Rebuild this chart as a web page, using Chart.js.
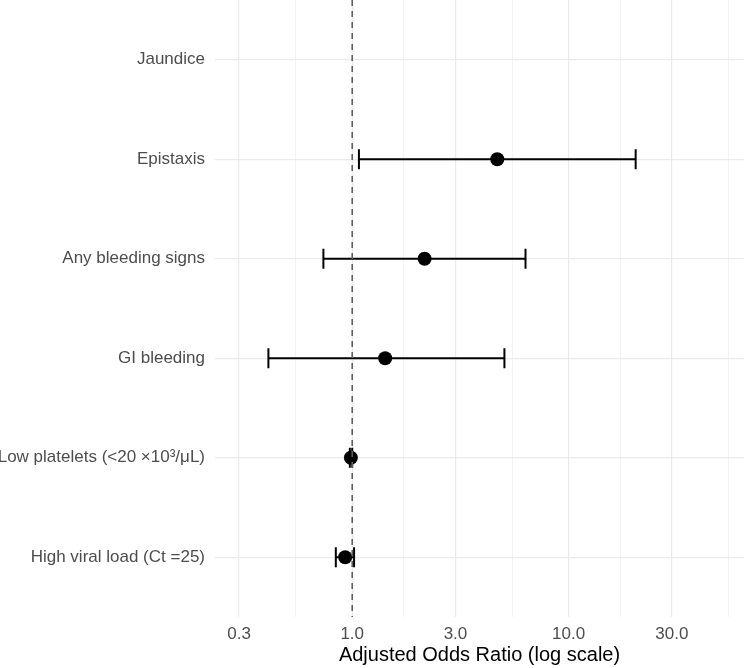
<!DOCTYPE html>
<html>
<head>
<meta charset="utf-8">
<script src="https://cdn.jsdelivr.net/npm/chart.js@4/dist/chart.umd.min.js"></script>
<style>
  html, body { margin: 0; padding: 0; background: #ffffff; }
  #wrap { width: 744px; height: 668px; position: relative; }
</style>
</head>
<body>
<div id="wrap"><canvas id="c"></canvas></div>
<script>
// ---- data ----
const categories = [
  "Jaundice",
  "Epistaxis",
  "Any bleeding signs",
  "GI bleeding",
  "Low platelets (<20 \u00d710\u00b3/\u03bcL)",
  "High viral load (Ct =25)"
];
const oddsRatios = [null, 4.68, 2.16, 1.42, 0.986, 0.928];
const ciLower    = [null, 1.074, 0.736, 0.41, 0.975, 0.84];
const ciUpper    = [null, 20.4, 6.32, 5.05, 1.0, 1.02];

const majorTicks = [0.3, 1, 3, 10, 30];
const majorTickLabels = ["0.3", "1.0", "3.0", "10.0", "30.0"];
const minorTicks = [0.5477, 1.732, 5.477, 17.32, 54.77];
const referenceValue = 1;

const xTitle = "Adjusted Odds Ratio (log scale)";

// ---- build datasets ----
const FONT = "'Liberation Sans', Arial, sans-serif";
const datasets = [];

// reference line (drawn on top)
datasets.push({
  type: 'line',
  data: [{x: referenceValue, y: -0.6}, {x: referenceValue, y: categories.length - 0.4}],
  borderColor: '#5f5f5f',
  borderWidth: 1.6,
  borderDash: [6, 5],
  pointRadius: 0,
  fill: false,
  order: 0
});

// point estimates
const pts = [];
oddsRatios.forEach((v, i) => { if (v !== null) pts.push({x: v, y: i}); });
datasets.push({
  type: 'scatter',
  data: pts,
  pointRadius: 7,
  pointBackgroundColor: '#000000',
  pointBorderColor: '#000000',
  pointBorderWidth: 0,
  order: 1
});

// confidence intervals with caps
categories.forEach((c, i) => {
  if (ciLower[i] === null) return;
  datasets.push({
    type: 'line',
    data: [{x: ciLower[i], y: i}, {x: ciUpper[i], y: i}],
    borderColor: '#000000',
    borderWidth: 2,
    pointStyle: 'line',
    rotation: 90,
    pointRadius: 10,
    pointBorderWidth: 2,
    pointBorderColor: '#000000',
    fill: false,
    order: 2
  });
});

const isMajor = (v) => majorTicks.some(m => Math.abs(m - v) < 1e-9);
const zeroPad = (scale) => {
  scale.paddingLeft = 0; scale.paddingRight = 0;
  scale.paddingTop = 0; scale.paddingBottom = 0;
};

new Chart(document.getElementById('c'), {
  type: 'scatter',
  data: { datasets },
  options: {
    responsive: true,
    maintainAspectRatio: false,
    animation: false,
    layout: { padding: 0, autoPadding: false },
    plugins: { legend: { display: false }, tooltip: { enabled: false } },
    scales: {
      x: {
        type: 'logarithmic',
        min: 0.2323,
        max: 64.6,
        afterBuildTicks: (scale) => {
          const all = majorTicks.map(v => ({value: v, major: true}))
            .concat(minorTicks.map(v => ({value: v, major: false})));
          all.sort((a, b) => a.value - b.value);
          scale.ticks = all;
        },
        afterFit: (scale) => { scale.height = 51; zeroPad(scale); },
        ticks: {
          autoSkip: false,
          maxRotation: 0,
          minRotation: 0,
          padding: 7,
          color: '#4d4d4d',
          font: { family: FONT, size: 17 },
          callback: (value) => {
            const idx = majorTicks.findIndex(m => Math.abs(m - value) < 1e-9);
            return idx >= 0 ? majorTickLabels[idx] : '';
          }
        },
        grid: {
          drawTicks: false,
          color: (ctx) => (ctx.tick && isMajor(ctx.tick.value)) ? '#ebebeb' : '#f3f3f3',
          lineWidth: (ctx) => (ctx.tick && isMajor(ctx.tick.value)) ? 1.2 : 1
        },
        border: { display: false },
        title: {
          display: true,
          text: xTitle,
          color: '#000000',
          font: { family: FONT, size: 20 },
          padding: { top: 0, bottom: 1 }
        }
      },
      y: {
        type: 'linear',
        reverse: true,
        min: -0.6,
        max: categories.length - 0.4,
        afterBuildTicks: (scale) => {
          scale.ticks = categories.map((c, i) => ({value: i}));
        },
        afterFit: (scale) => { scale.width = 215; zeroPad(scale); },
        ticks: {
          autoSkip: false,
          padding: 10,
          color: '#4d4d4d',
          font: { family: FONT, size: 17 },
          callback: (value) => categories[Math.round(value)] || ''
        },
        grid: {
          drawTicks: false,
          color: '#ebebeb',
          lineWidth: 1.2
        },
        border: { display: false }
      }
    }
  }
});
</script>
</body>
</html>
